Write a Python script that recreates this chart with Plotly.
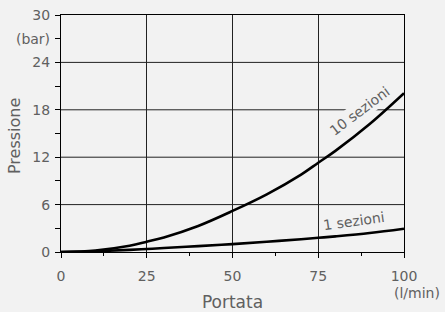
import plotly.graph_objects as go

portata = [0, 10, 20, 25, 30, 40, 50, 60, 70, 75, 80, 90, 100]
sez10 = [0, 0.2, 0.8, 1.3, 1.85, 3.3, 5.2, 7.3, 9.8, 11.3, 12.8, 16.2, 20.1]
sez1 = [0, 0.1, 0.27, 0.38, 0.5, 0.75, 1.0, 1.3, 1.62, 1.8, 1.98, 2.4, 2.95]

y_tickvals = [0, 3, 6, 9, 12, 15, 18, 21, 24, 27, 30]
y_ticktext = ["0", "", "6", "", "12", "", "18", "", "24", "(bar)", "30"]
x_tickvals = [0, 25, 50, 75, 100]
x_ticktext = ["0", "25", "50", "75", "100"]

FONT = "DejaVu Sans, sans-serif"
GREY = "#606060"
BG = "#f2f2f2"

fig = go.Figure()
fig.add_trace(go.Scatter(x=portata, y=sez10, mode="lines", line=dict(color="black", width=2.6, shape="spline"), name="10 sezioni"))
fig.add_trace(go.Scatter(x=portata, y=sez1, mode="lines", line=dict(color="black", width=2.6, shape="spline"), name="1 sezioni"))

fig.add_annotation(x=87.0, y=17.9, xref="x", yref="y", text="10 sezioni", textangle=-37,
                   showarrow=False, bgcolor=BG, font=dict(family=FONT, size=14, color=GREY))
fig.add_annotation(x=85.5, y=3.9, xref="x", yref="y", text="1 sezioni", textangle=-8,
                   showarrow=False, font=dict(family=FONT, size=14, color=GREY))
fig.add_annotation(x=(417 - 61) / 343, y=-(293 - 252) / 237, xref="paper", yref="paper", text="(l/min)",
                   xanchor="center", yanchor="middle",
                   showarrow=False, font=dict(family=FONT, size=14, color=GREY))
fig.add_annotation(x=(14 - 61) / 343, y=(252 - 136) / 237, xref="paper", yref="paper", text="Pressione",
                   textangle=-90, xanchor="center", yanchor="middle",
                   showarrow=False, font=dict(family=FONT, size=16, color=GREY))

fig.update_layout(
    width=445, height=312,
    margin=dict(l=61, r=41, t=15, b=60, autoexpand=False),
    paper_bgcolor=BG, plot_bgcolor=BG,
    showlegend=False,
    font=dict(family=FONT, size=14, color=GREY),
)
fig.update_xaxes(
    range=[0, 100], tickvals=x_tickvals, ticktext=x_ticktext,
    ticks="outside", ticklen=5, tickcolor="black",
    minor=dict(tickvals=[12.5, 37.5, 62.5, 87.5], ticks="outside", ticklen=3, tickcolor="black", showgrid=False),
    showgrid=True, gridcolor="#222", gridwidth=1,
    showline=True, linecolor="black", linewidth=1.2, mirror=True,
    zeroline=False, automargin=False, ticklabelstandoff=6,
    tickfont=dict(family=FONT, size=14, color=GREY),
    title=dict(text="Portata", font=dict(family=FONT, size=17, color=GREY), standoff=13),
)
fig.update_yaxes(
    range=[0, 30], tickvals=y_tickvals, ticktext=y_ticktext,
    ticks="outside", ticklen=5, tickcolor="black",
    showgrid=False,
    showline=True, linecolor="black", linewidth=1.2, mirror=True,
    zeroline=False, automargin=False, ticklabelstandoff=2,
    tickfont=dict(family=FONT, size=14, color=GREY),
)
for v in [6, 12, 18, 24]:
    fig.add_shape(type="line", xref="x", yref="y", x0=0, x1=100, y0=v, y1=v,
                  line=dict(color="#222", width=1), layer="below")

fig.write_html("out.html", config={"displayModeBar": False},
               post_script="document.body.style.margin='0';document.body.style.background='#f2f2f2';")
